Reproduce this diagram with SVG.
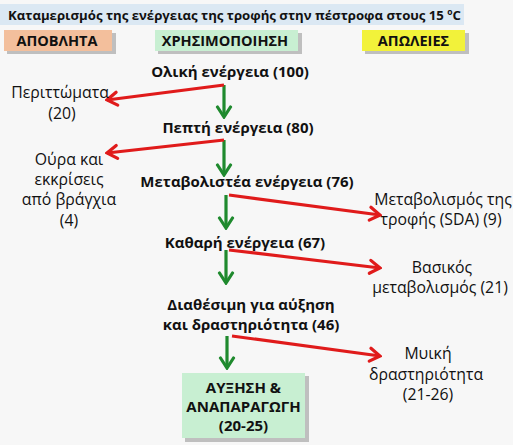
<svg xmlns="http://www.w3.org/2000/svg" width="513" height="445" viewBox="0 0 513 445">
<defs>
<marker id="hr" markerUnits="userSpaceOnUse" viewBox="-14 -9 16 18" markerWidth="16" markerHeight="18" refX="0" refY="0" orient="auto">
<path d="M-10,-6.5 L0,0 L-10,6.5" fill="none" stroke="#e01b1b" stroke-width="3.2" stroke-linejoin="miter" stroke-linecap="round"/>
</marker>
<marker id="hg" markerUnits="userSpaceOnUse" viewBox="-14 -9 16 18" markerWidth="16" markerHeight="18" refX="0" refY="0" orient="auto">
<path d="M-10,-6.5 L0,0 L-10,6.5" fill="none" stroke="#1f8a2e" stroke-width="3.2" stroke-linejoin="miter" stroke-linecap="round"/>
</marker>
</defs>
<style>
text{font-family:"Open Sans","Liberation Sans",sans-serif;fill:#111}
.b{font-weight:bold;font-size:15px}
.r{font-size:15.8px}
.h{font-weight:bold;font-size:14.5px}
.red{stroke:#e01b1b;stroke-width:3.2;fill:none;marker-end:url(#hr)}
.grn{stroke:#1f8a2e;stroke-width:3.2;fill:none;marker-end:url(#hg)}
.sh{fill:#9a9a9a;opacity:0.6}
</style>
<rect width="513" height="445" fill="#f7f7f7"/>
<g id="title">
<rect x="0" y="4" width="464" height="21" fill="#dbe8f3"/>
<text x="8" y="19.5" style="font-weight:bold;font-size:13.2px">Καταμερισμός της ενέργειας της τροφής στην πέστροφα στους 15 <tspan font-size="8.5" dy="-5">o</tspan><tspan dy="5">C</tspan></text>
</g>
<g id="hdr-waste">
<rect class="sh" x="7" y="33" width="109" height="21"/>
<rect x="4" y="30" width="108" height="21" fill="#f3bf9c"/>
<text class="h" x="57" y="46" text-anchor="middle">ΑΠΟΒΛΗΤΑ</text>
</g>
<g id="hdr-use">
<rect class="sh" x="158" y="33" width="144" height="21"/>
<rect x="155" y="30" width="143" height="21" fill="#c8efd2"/>
<text class="h" x="225" y="46" text-anchor="middle">ΧΡΗΣΙΜΟΠΟΙΗΣΗ</text>
</g>
<g id="hdr-loss">
<rect class="sh" x="365" y="33" width="104" height="21"/>
<rect x="362" y="30" width="103" height="21" fill="#f2f23a"/>
<text class="h" x="413.5" y="46" text-anchor="middle">ΑΠΩΛΕΙΕΣ</text>
</g>
<g id="connectors">
<line class="grn" x1="224" y1="85" x2="224" y2="117"/>
<line class="red" x1="224" y1="85" x2="107" y2="100"/>
<line class="grn" x1="224" y1="140" x2="224" y2="175"/>
<line class="red" x1="224" y1="140" x2="107" y2="153"/>
<line class="grn" x1="226" y1="195" x2="226" y2="228"/>
<line class="red" x1="229" y1="195" x2="380" y2="215"/>
<line class="grn" x1="226" y1="250" x2="226" y2="283"/>
<line class="red" x1="229" y1="250" x2="380" y2="268"/>
<line class="grn" x1="227" y1="336" x2="227" y2="368"/>
<line class="red" x1="232" y1="336" x2="380" y2="356"/>
</g>
<g id="n-total"><text class="b" x="230" y="77" text-anchor="middle">Ολική ενέργεια (100)</text></g>
<g id="n-digest"><text class="b" x="238" y="133" text-anchor="middle">Πεπτή ενέργεια (80)</text></g>
<g id="n-metab"><text class="b" x="247" y="187" text-anchor="middle">Μεταβολιστέα ενέργεια (76)</text></g>
<g id="n-net"><text class="b" x="245" y="248" text-anchor="middle">Καθαρή ενέργεια (67)</text></g>
<g id="n-avail"><text class="b" x="251" y="310" text-anchor="middle">Διαθέσιμη για αύξηση<tspan x="251" dy="20">και δραστηριότητα (46)</tspan></text></g>
<g id="n-growth">
<rect class="sh" x="185" y="376" width="124" height="66"/>
<rect x="182" y="373" width="123" height="65" fill="#c8efd2"/>
<text class="b" x="243.5" y="393" text-anchor="middle">ΑΥΞΗΣΗ &amp;<tspan x="243.5" dy="19">ΑΝΑΠΑΡΑΓΩΓΗ</tspan><tspan x="243.5" dy="19">(20-25)</tspan></text>
</g>
<g id="n-faeces"><text class="r" x="60" y="98" text-anchor="middle">Περιττώματα<tspan x="62" dy="21">(20)</tspan></text></g>
<g id="n-urine"><text class="r" x="69" y="165" text-anchor="middle">Ούρα και<tspan x="69" dy="20">εκκρίσεις</tspan><tspan x="69" dy="20">από βράγχια</tspan><tspan x="69" dy="21">(4)</tspan></text></g>
<g id="n-sda"><text class="r" x="443" y="205" text-anchor="middle">Μεταβολισμός της<tspan x="441" dy="20">τροφής (SDA) (9)</tspan></text></g>
<g id="n-basal"><text class="r" x="442" y="273" text-anchor="middle">Βασικός<tspan x="440" dy="20">μεταβολισμός (21)</tspan></text></g>
<g id="n-muscle"><text class="r" x="428" y="359" text-anchor="middle">Μυική<tspan x="426" dy="20.5">δραστηριότητα</tspan><tspan x="428" dy="20.5">(21-26)</tspan></text></g>
</svg>
